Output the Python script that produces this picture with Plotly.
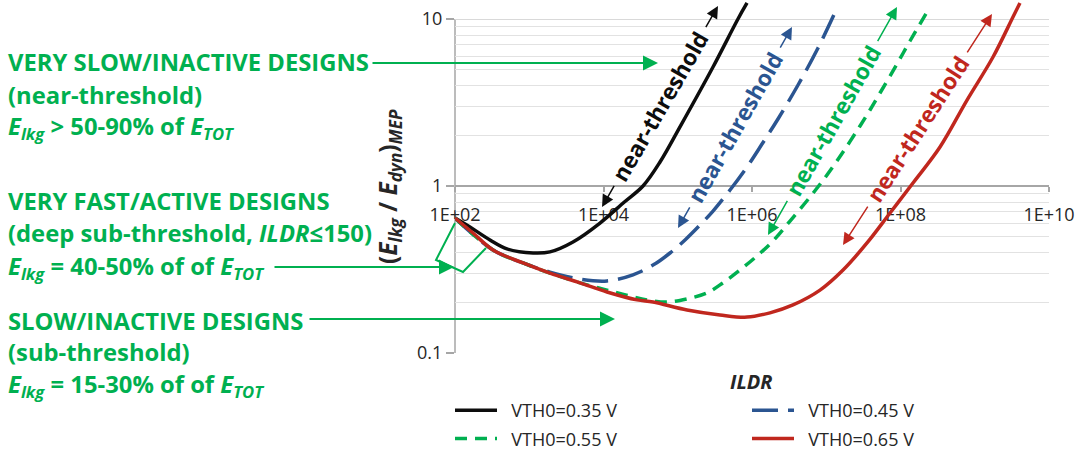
import math
import plotly.graph_objects as go

# ---------------- data ----------------
ildr_035 = [100, 159, 296, 501, 1125, 1901, 3882, 8974, 19100, 34040, 57680, 107200, 298500, 647100, 857000]
ratio_035 = [0.643, 0.568, 0.475, 0.420, 0.397, 0.403, 0.462, 0.600, 0.802, 1.0, 1.392, 2.26, 5.16, 10.0, 12.47]

ildr_045 = [100, 325, 824, 1901, 4831, 11140, 24950, 46450, 78700, 125300, 199500, 298500, 505800,
            857000, 1365000, 2239000, 4169000, 7745000, 14390000]
ratio_045 = [0.643, 0.414, 0.346, 0.305, 0.277, 0.270, 0.294, 0.336, 0.397, 0.475, 0.584, 0.708, 0.946,
             1.300, 1.784, 2.519, 4.026, 6.70, 11.96]

ildr_055 = [100, 325, 824, 1901, 4831, 11140, 22750, 38550, 71610, 133400, 247700, 406400, 688700,
            1167000, 1919000, 3251000, 6039000, 10230000, 16830000, 28510000, 38820000, 52970000,
            89740000, 134300000, 227500000]
ratio_055 = [0.643, 0.414, 0.346, 0.301, 0.263, 0.238, 0.219, 0.208, 0.202, 0.211, 0.229, 0.263, 0.314,
             0.381, 0.469, 0.617, 0.859, 1.164, 1.598, 2.288, 2.852, 3.605, 5.377, 7.384, 11.01]

ildr_065 = [100, 174.6, 325, 824, 1901, 4831, 11140, 28250, 46450, 133400, 370700, 857000, 1746000,
            3565000, 8241000, 16830000, 35400000, 72280000, 147200000, 340400000, 787000000,
            1762000000, 3273000000, 4064000000]
ratio_065 = [0.643, 0.523, 0.414, 0.346, 0.301, 0.263, 0.232, 0.208, 0.202, 0.181, 0.169, 0.164, 0.174,
             0.194, 0.238, 0.314, 0.456, 0.689, 1.042, 1.712, 3.27, 5.92, 10.28, 12.47]

series_names = ["VTH0=0.35 V", "VTH0=0.45 V", "VTH0=0.55 V", "VTH0=0.65 V"]
x_tickvals = [1e2, 1e4, 1e6, 1e8, 1e10]
x_ticktext = ["1E+02", "1E+04", "1E+06", "1E+08", "1E+10"]
y_tickvals = [0.1, 1, 10]
y_ticktext = ["0.1", "1", "10"]

# ---------------- styles ----------------
BLACK = "#0d0d0d"
BLUE = "#2b5591"
GREEN = "#00b050"
RED = "#c0271e"
AXIS = "#a6a6a6"
TXT = "#262626"
FONT = "Open Sans"
PAD = "\u00a0\u00a0"

W, H = 1091, 453
L, R, T, B = 455, 42, 2, 100
PW, PH = W - L - R, H - T - B


def px2x(px):
    return (px - L) / PW


def py2y(py):
    return (H - B - py) / PH


fig = go.Figure()
fig.add_trace(go.Scatter(x=ildr_035, y=ratio_035, name=PAD + series_names[0], mode="lines",
                         legend="legend", legendgroup="a",
                         line=dict(color=BLACK, width=3.5, shape="spline")))
fig.add_trace(go.Scatter(x=ildr_045, y=ratio_045, name=PAD + series_names[1], mode="lines",
                         legend="legend2", legendgroup="b",
                         line=dict(color=BLUE, width=3.5, dash="26px,10px", shape="spline")))
fig.add_trace(go.Scatter(x=ildr_055, y=ratio_055, name=PAD + series_names[2], mode="lines",
                         legend="legend", legendgroup="c",
                         line=dict(color=GREEN, width=3.5, dash="12px,8px", shape="spline")))
fig.add_trace(go.Scatter(x=ildr_065, y=ratio_065, name=PAD + series_names[3], mode="lines",
                         legend="legend2", legendgroup="d",
                         line=dict(color=RED, width=3.5, shape="spline")))

ann = []
# left text blocks
left_lines = [
    ("VERY SLOW/INACTIVE DESIGNS", 62),
    ("(near-threshold)", 95),
    ("<i>E<sub>lkg</sub></i> > 50-90% of <i>E<sub>TOT</sub></i>", 127),
    ("VERY FAST/ACTIVE DESIGNS", 201),
    ("(deep sub-threshold, <i>ILDR</i>≤150)", 233),
    ("<i>E<sub>lkg</sub></i> = 40-50% of of <i>E<sub>TOT</sub></i>", 267),
    ("SLOW/INACTIVE DESIGNS", 321),
    ("(sub-threshold)", 352),
    ("<i>E<sub>lkg</sub></i> = 15-30% of of <i>E<sub>TOT</sub></i>", 385),
]
for txt, yy in left_lines:
    ann.append(dict(text="<b>" + txt + "</b>", x=px2x(6), y=py2y(yy), xref="paper", yref="paper",
                    xanchor="left", yanchor="middle", showarrow=False,
                    font=dict(family=FONT, size=23.8, color=GREEN)))

# green pointer arrows
for tail, tip, yy in [(371, 658, 63), (273, 454, 267), (308, 615, 319)]:
    ann.append(dict(text="", x=px2x(tip), y=py2y(yy), xref="paper", yref="paper",
                    ax=tail - tip, ay=0, showarrow=True, arrowhead=2, arrowsize=1.5,
                    arrowwidth=2, arrowcolor=GREEN, standoff=0))

# near-threshold labels with double arrows
nt = [
    (BLACK, (602, 207), (718, 6)),
    (BLUE, (678, 228), (792, 27)),
    (GREEN, (768, 235), (897, 7)),
    (RED, (843, 245), (992, 14)),
]
for col, lo, hi in nt:
    dx, dy = hi[0] - lo[0], hi[1] - lo[1]
    ln = math.hypot(dx, dy)
    ux, uy = dx / ln, dy / ln
    cx, cy = (lo[0] + hi[0]) / 2, (lo[1] + hi[1]) / 2
    ang = math.degrees(math.atan2(dy, dx))
    half = 90
    ann.append(dict(text="<b>near-threshold</b>", x=px2x(cx), y=py2y(cy), xref="paper", yref="paper",
                    xanchor="center", yanchor="middle",
                    textangle=ang, showarrow=False, font=dict(family=FONT, size=22.5, color=col)))
    for tip, sgn in [(lo, -1), (hi, 1)]:
        tx, ty = cx + sgn * half * ux, cy + sgn * half * uy
        ann.append(dict(text="", x=px2x(tip[0]), y=py2y(tip[1]), xref="paper", yref="paper",
                        ax=tx - tip[0], ay=ty - tip[1], showarrow=True, arrowhead=2, arrowsize=1.6,
                        arrowwidth=1.5, arrowcolor=col, standoff=0))

# axis titles
ann.append(dict(text="<b>(<i>E<sub>lkg</sub></i> / <i>E<sub>dyn</sub></i>)<sub><i>MEP</i></sub></b>",
                x=px2x(389), y=py2y(187), xref="paper", yref="paper", textangle=-90,
                xanchor="center", yanchor="middle",
                showarrow=False, font=dict(family=FONT, size=24.5, color=TXT)))
ann.append(dict(text="<b><i>ILDR</i></b>", x=px2x(751), y=py2y(381), xref="paper", yref="paper",
                xanchor="center", yanchor="middle",
                showarrow=False, font=dict(family=FONT, size=20, color=TXT)))

shapes = [
    # y-axis line from 0.1 to 10
    dict(type="line", xref="paper", yref="paper", x0=0, x1=0, y0=py2y(353), y1=py2y(19),
         line=dict(color=AXIS, width=1.5), layer="below"),
    # green bracket
    dict(type="path", xref="paper", yref="paper",
         path="M {},{} L {},{} L {},{} L {},{}".format(px2x(455), py2y(223), px2x(436), py2y(260),
                                                       px2x(463), py2y(272), px2x(486), py2y(248)),
         line=dict(color=GREEN, width=2)),
]

leg_common = dict(orientation="v", xanchor="left", yanchor="top", tracegroupgap=2,
                  font=dict(family=FONT, size=18, color=TXT), bgcolor="rgba(0,0,0,0)",
                  itemwidth=42)

fig.update_layout(
    width=W, height=H, margin=dict(l=L, r=R, t=T, b=B, autoexpand=False),
    paper_bgcolor="white", plot_bgcolor="white",
    font=dict(family=FONT, color=TXT),
    annotations=ann, shapes=shapes,
    legend=dict(x=px2x(450), y=py2y(392), **leg_common),
    legend2=dict(x=px2x(747), y=py2y(392), **leg_common),
    xaxis=dict(type="log", range=[2, 10], anchor="free", position=py2y(186), side="bottom",
               showline=True, linecolor=AXIS, linewidth=1.5, ticks="outside", ticklen=5,
               tickcolor=AXIS, tickwidth=1.5, tickvals=x_tickvals, ticktext=x_ticktext,
               ticklabelstandoff=8, tickfont=dict(size=18, color=TXT), showgrid=False,
               zeroline=False, layer="below traces"),
    yaxis=dict(type="log", range=[-1, 1 + (19 - T) / 167], showline=False, ticks="outside",
               ticklen=8, tickcolor=AXIS, tickwidth=1.5, tickvals=y_tickvals, ticktext=y_ticktext,
               tickfont=dict(size=18, color=TXT), showgrid=True, gridcolor="#d9d9d9", gridwidth=1,
               minor=dict(dtick="D1", showgrid=True, gridcolor="#e2e2e2", gridwidth=1, ticks=""),
               zeroline=False, layer="below traces"),
)

fig.write_html("out.html", config={"displayModeBar": False},
               post_script="document.body.style.margin='0px';")
